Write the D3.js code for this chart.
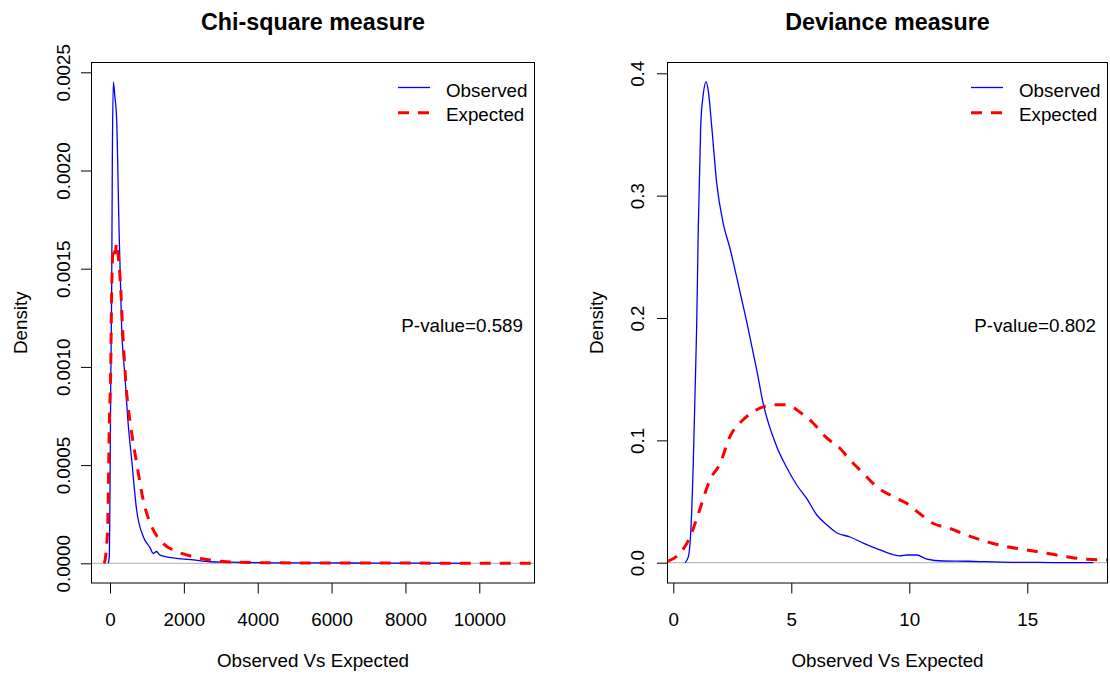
<!DOCTYPE html>
<html>
<head>
<meta charset="utf-8">
<script src="https://cdn.jsdelivr.net/npm/d3@7"></script>
<style>
  body { margin: 0; background: #fff; }
  svg { display: block; font-family: "Liberation Sans", Arial, Helvetica, sans-serif; }
</style>
</head>
<body>
<svg id="chart"></svg>
<script>
// Chi-square panel data
var chiObsX = [-50, -20, 0, 18, 45, 63, 90, 130, 180, 244, 316, 406, 496, 586, 722, 902, 1083, 1170, 1260, 1353, 1805, 2255, 2706, 3200, 4060, 5000, 6000, 7000, 8000, 9000, 9700];
var chiObsY = [0, 0.00003, 0.00036, 0.00087, 0.00138, 0.00205, 0.00245, 0.00238, 0.00226, 0.00171, 0.0012, 0.00095, 0.0007, 0.00053, 0.00027, 0.000135, 0.00008, 0.00005, 0.00006, 0.000042, 0.000025, 0.000017, 0.000008, 0.000006, 0.000003, 0.000002, 0.000002, 0.000001, 0.000001, 0.000001, 0];
var chiExpX = [-160, -130, -89, -62, -19, 20, 45, 90, 140, 180, 230, 271, 361, 451, 559, 722, 902, 1173, 1443, 1805, 2255, 2706, 3157, 4060, 5000, 6000, 8000, 10000, 11600];
var chiExpY = [0, 0.00002, 0.0001, 0.00019, 0.0007, 0.001, 0.00138, 0.00161, 0.00158, 0.00163, 0.00155, 0.00146, 0.00112, 0.00087, 0.0007, 0.00051, 0.00032, 0.00017, 0.0001, 0.00006, 0.000034, 0.000017, 0.000008, 0.000003, 0.000002, 0.000001, 0.000001, 0, 0];

// Deviance panel data
var devObsX = [0.50, 0.64, 0.75, 0.85, 0.92, 0.99, 1.06, 1.16, 1.27, 1.39, 1.48, 1.63, 1.84, 2.12, 2.40, 2.69, 3.11, 3.53, 3.81, 4.38, 4.80, 5.23, 5.65, 6.08, 6.50, 6.92, 7.49, 8.05, 8.76, 9.61, 9.89, 10.31, 10.74, 11.44, 12.5, 13.28, 13.9, 15.5, 16.5, 17.8];
var devObsY = [0, 0.005, 0.029, 0.084, 0.138, 0.193, 0.275, 0.356, 0.383, 0.393, 0.386, 0.356, 0.31, 0.277, 0.257, 0.233, 0.197, 0.158, 0.130, 0.095, 0.078, 0.0635, 0.0526, 0.039, 0.031, 0.0245, 0.021, 0.016, 0.0104, 0.0055, 0.0063, 0.0063, 0.003, 0.0014, 0.0012, 0.0008, 0.0005, 0.0002, 0.0001, 0];
var devExpX = [-0.25, 0.28, 0.71, 1.06, 1.56, 1.98, 2.40, 2.97, 3.53, 4.24, 4.80, 5.37, 5.93, 6.50, 7.06, 7.49, 8.05, 8.62, 9.32, 9.89, 10.45, 11.02, 11.72, 12.43, 13.28, 14.13, 14.97, 15.82, 16.67, 17.52, 18.5];
var devExpY = [0.001, 0.0077, 0.021, 0.040, 0.068, 0.081, 0.103, 0.117, 0.125, 0.129, 0.129, 0.123, 0.114, 0.102, 0.0935, 0.084, 0.073, 0.062, 0.054, 0.0485, 0.040, 0.032, 0.028, 0.0226, 0.0172, 0.0131, 0.0104, 0.0077, 0.0049, 0.0028, 0.0022];

var titles = ["Chi-square measure", "Deviance measure"];
var pValues = ["P-value=0.589", "P-value=0.802"];
var legendLabels = ["Observed", "Expected"];
var xTicks = [[0, 2000, 4000, 6000, 8000, 10000], [0, 5, 10, 15]];
var yTicks = [[0, 0.0005, 0.001, 0.0015, 0.002, 0.0025], [0, 0.1, 0.2, 0.3, 0.4]];

var width = 1110, height = 677;
var fontSize = 18.8;

var svg = d3.select("#chart").attr("width", width).attr("height", height);

var panels = [
  {
    box: { l: 91.5, r: 534.5, t: 62.5, b: 583 },
    xDom: [0, 10000], xRng: [110, 479.3],
    yDom: [0, 0.0025], yRng: [563.3, 72.3],
    yFmt: d3.format(".4f"), yLabOff: 21.5,
    obs: d3.zip(chiObsX, chiObsY), exp: d3.zip(chiExpX, chiExpY)
  },
  {
    box: { l: 667.5, r: 1107.5, t: 62.5, b: 583 },
    xDom: [0, 15], xRng: [673.3, 1027.3],
    yDom: [0, 0.4], yRng: [562.7, 73.3],
    yFmt: d3.format(".1f"), yLabOff: 24,
    obs: d3.zip(devObsX, devObsY), exp: d3.zip(devExpX, devExpY)
  }
];

panels.forEach(function (p, i) {
  var b = p.box;
  var x = d3.scaleLinear().domain(p.xDom).range(p.xRng);
  var y = d3.scaleLinear().domain(p.yDom).range(p.yRng);
  var g = svg.append("g");

  g.append("clipPath").attr("id", "clip" + i)
    .append("rect").attr("x", b.l).attr("y", b.t).attr("width", b.r - b.l).attr("height", b.b - b.t);

  var plot = g.append("g").attr("clip-path", "url(#clip" + i + ")");

  // zero line
  plot.append("line")
    .attr("x1", b.l).attr("x2", b.r)
    .attr("y1", y(0)).attr("y2", y(0))
    .attr("stroke", "#bebebe").attr("stroke-width", 1.2);

  var line = d3.line()
    .x(function (d) { return x(d[0]); })
    .y(function (d) { return y(d[1]); })
    .curve(d3.curveMonotoneX);

  plot.append("path")
    .attr("d", line(p.obs))
    .attr("fill", "none").attr("stroke", "#0000ff").attr("stroke-width", 1.3);

  plot.append("path")
    .attr("d", line(p.exp))
    .attr("fill", "none").attr("stroke", "#ff0000").attr("stroke-width", 3)
    .attr("stroke-dasharray", "11,9");

  // box
  g.append("rect")
    .attr("x", b.l).attr("y", b.t).attr("width", b.r - b.l).attr("height", b.b - b.t)
    .attr("fill", "none").attr("stroke", "#000").attr("stroke-width", 1);

  // x axis
  var xa = g.append("g")
    .attr("transform", "translate(0," + b.b + ")")
    .call(d3.axisBottom(x).tickValues(xTicks[i]).tickFormat(d3.format("d")).tickSize(10.5).tickSizeOuter(0));
  xa.select(".domain").remove();
  xa.selectAll("line").attr("stroke", "#000");
  xa.selectAll("text")
    .attr("y", 626 - b.b).attr("dy", 0)
    .attr("fill", "#000").style("font-size", fontSize + "px");

  // y axis
  var ya = g.append("g")
    .attr("transform", "translate(" + b.l + ",0)")
    .call(d3.axisLeft(y).tickValues(yTicks[i]).tickFormat(p.yFmt).tickSize(10.5).tickSizeOuter(0));
  ya.select(".domain").remove();
  ya.selectAll("line").attr("stroke", "#000");
  ya.selectAll("text")
    .attr("x", 0).attr("y", 0).attr("dy", 0)
    .attr("text-anchor", "middle")
    .attr("transform", "translate(" + (-p.yLabOff) + ",0) rotate(-90)")
    .attr("fill", "#000").style("font-size", fontSize + "px");

  // title
  g.append("text")
    .attr("x", (b.l + b.r) / 2).attr("y", 30)
    .attr("text-anchor", "middle")
    .style("font-size", "23.3px").style("font-weight", "bold")
    .text(titles[i]);

  // axis titles
  g.append("text")
    .attr("x", (b.l + b.r) / 2).attr("y", 667)
    .attr("text-anchor", "middle")
    .style("font-size", fontSize + "px")
    .text("Observed Vs Expected");

  g.append("text")
    .attr("text-anchor", "middle")
    .attr("transform", "translate(" + (b.l - 65) + "," + ((b.t + b.b) / 2) + ") rotate(-90)")
    .style("font-size", fontSize + "px")
    .text("Density");

  // legend
  var legY = [87.5, 112.7];
  var txtY = [97.3, 120.6];
  legendLabels.forEach(function (lab, k) {
    g.append("line")
      .attr("x1", b.r - 136.5).attr("x2", b.r - 104.5)
      .attr("y1", legY[k]).attr("y2", legY[k])
      .attr("stroke", k === 0 ? "#0000ff" : "#ff0000")
      .attr("stroke-width", k === 0 ? 1.3 : 3)
      .attr("stroke-dasharray", k === 0 ? null : "11,9");
    g.append("text")
      .attr("x", b.r - 88.5).attr("y", txtY[k])
      .style("font-size", fontSize + "px")
      .text(lab);
  });

  // p-value
  g.append("text")
    .attr("x", b.r - 11.5).attr("y", 331.5)
    .attr("text-anchor", "end")
    .style("font-size", fontSize + "px")
    .text(pValues[i]);
});
</script>
</body>
</html>
